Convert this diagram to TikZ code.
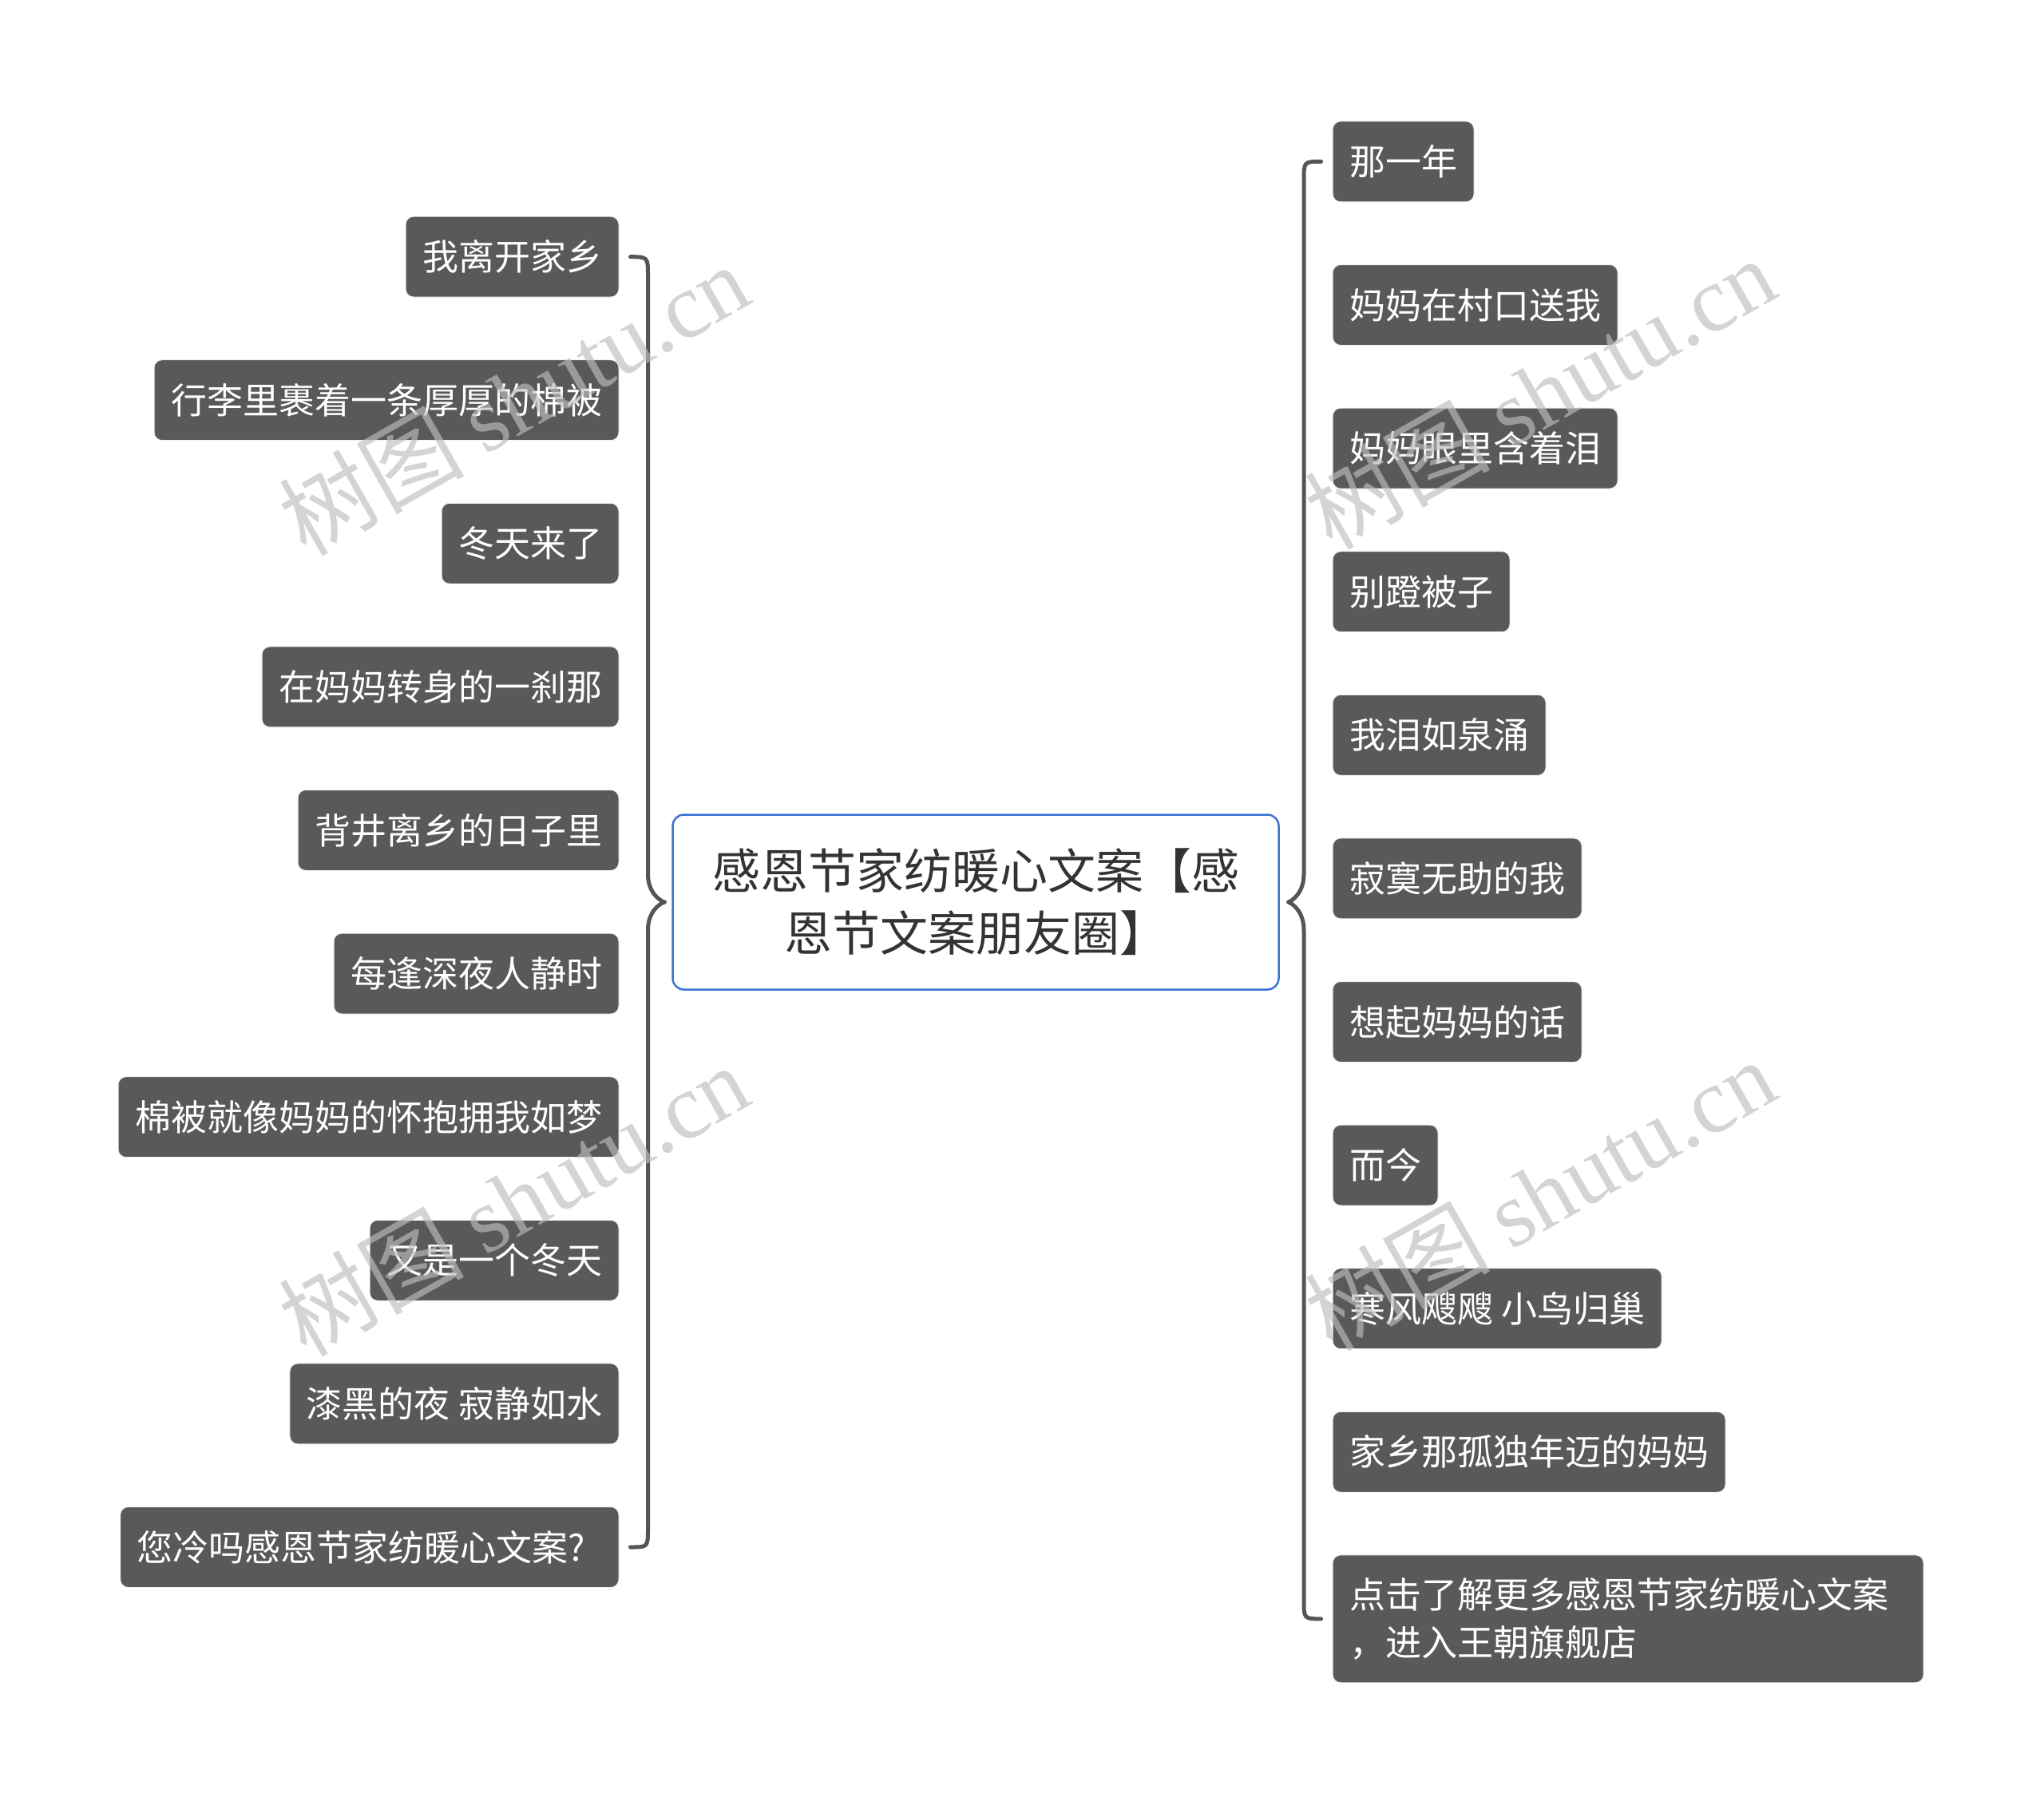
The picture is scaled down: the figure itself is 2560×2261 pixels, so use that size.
\documentclass[tikz,border=0pt]{standalone}
\usepackage{fontspec}
\setmainfont{Noto Sans CJK SC}
\newfontfamily\wmfont{Liberation Serif}
\newfontfamily\wmcjk{Noto Sans CJK SC}
\definecolor{nodegray}{HTML}{595959}
\definecolor{linegray}{HTML}{555555}
\definecolor{blueb}{HTML}{3A74D0}
\definecolor{maintext}{HTML}{333333}
\definecolor{wmgray}{HTML}{BDBDBD}
\begin{document}
\begin{tikzpicture}[x=1pt,y=-1pt,
  leaf/.style={fill=nodegray, draw=black!6, line width=1pt, rounded corners=10pt,
    text=white, font=\fontsize{45}{53}\selectfont, inner xsep=21pt, inner ysep=0pt,
    minimum height=101pt, text height=38.7pt, text depth=4.5pt},
  lnode/.style={leaf, anchor=east},
  rnode/.style={leaf, anchor=west},
  conn/.style={draw=linegray, line width=5pt, line cap=round},
  wm/.style={text=wmgray, opacity=0.65, font=\fontsize{116}{120}\selectfont, rotate=29.6}]
\useasboundingbox (0,0) rectangle (2560,2261);
\fill[white] (0,0) rectangle (2560,2261);

% central node
\node[draw=blueb, line width=2.5pt, fill=white, rounded corners=14pt,
  minimum width=759pt, minimum height=219pt, align=center, text=maintext,
  font=\fontsize{60}{78}\selectfont] (C) at (1222,1130)
  {感恩节家纺暖心文案【感\\恩节文案朋友圈】};

% left nodes
\node[lnode] (L1) at (775.5,321.6) {我离开家乡};
\node[lnode] (L2) at (775.5,501.2) {行李里裹着一条厚厚的棉被};
\node[lnode] (L3) at (775.5,680.8) {冬天来了};
\node[lnode] (L4) at (775.5,860.4) {在妈妈转身的一刹那};
\node[lnode] (L5) at (775.5,1040) {背井离乡的日子里};
\node[lnode] (L6) at (775.5,1219.6) {每逢深夜人静时};
\node[lnode] (L7) at (775.5,1399.2) {棉被就像妈妈的怀抱拥我如梦};
\node[lnode] (L8) at (775.5,1578.8) {又是一个冬天};
\node[lnode] (L9) at (775.5,1758.4) {漆黑的夜 寂静如水};
\node[lnode] (L10) at (775.5,1938) {您冷吗感恩节家纺暖心文案?\kern21pt};

% right nodes
\node[rnode] (R1) at (1668.6,202.4) {那一年};
\node[rnode] (R2) at (1668.6,382) {妈妈在村口送我};
\node[rnode] (R3) at (1668.6,561.6) {妈妈眼里含着泪};
\node[rnode] (R4) at (1668.6,741.2) {别蹬被子};
\node[rnode] (R5) at (1668.6,920.8) {我泪如泉涌};
\node[rnode] (R6) at (1668.6,1100.4) {寂寞无助的我};
\node[rnode] (R7) at (1668.6,1280) {想起妈妈的话};
\node[rnode] (R8) at (1668.6,1459.6) {而今};
\node[rnode] (R9) at (1668.6,1639.2) {寒风飕飕 小鸟归巢};
\node[rnode] (R10) at (1668.6,1818.8) {家乡那孤独年迈的妈妈};
\node[leaf, anchor=west, text height=, text depth=, text width=698pt, align=left,
  minimum height=160pt, font=\fontsize{45}{60}\selectfont] (R11) at (1668.6,2027.8)
  {点击了解更多感恩节家纺暖心文案\\，进入王朝旗舰店};

% left bracket
\draw[conn] ([xshift=-9pt]C.west) .. controls (826,1128) and (811.5,1118) .. (811.5,1095)
  -- (811.5,345) .. controls (811.5,322) .. ([xshift=14pt]L1.east);
\draw[conn] ([xshift=-9pt]C.west) .. controls (826,1132) and (811.5,1142) .. (811.5,1165)
  -- (811.5,1915) .. controls (811.5,1938) .. ([xshift=14pt]L10.east);

% right bracket
\draw[conn] ([xshift=11pt]C.east) .. controls (1619,1128) and (1633,1118) .. (1633,1095)
  -- (1633,226) .. controls (1633,202.4) .. ([xshift=-14pt]R1.west);
\draw[conn] ([xshift=11pt]C.east) .. controls (1619,1132) and (1633,1142) .. (1633,1165)
  -- (1633,2004) .. controls (1633,2027.8) .. ([xshift=-14pt]R11.west);

% watermarks
\node[wm] (W1) at (643,500) {\wmcjk 树图 \wmfont shutu.cn};
\node[wm] (W2) at (643,1503) {\wmcjk 树图 \wmfont shutu.cn};
\node[wm] (W3) at (1928,492) {\wmcjk 树图 \wmfont shutu.cn};
\node[wm] (W4) at (1928,1496) {\wmcjk 树图 \wmfont shutu.cn};
\end{tikzpicture}
\end{document}
